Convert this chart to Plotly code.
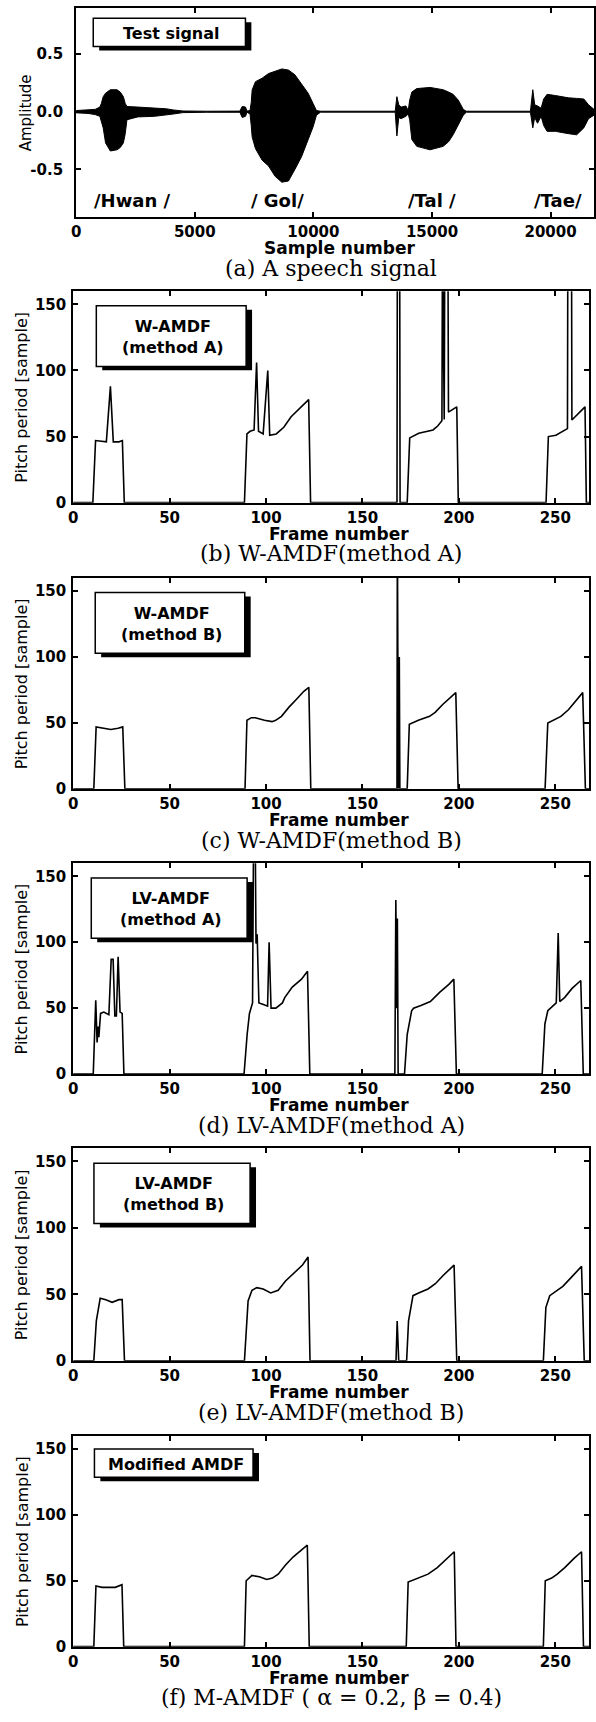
import plotly.graph_objects as go

# ---------------- data ----------------
# (a) speech signal envelope (sample number, upper amplitude, lower amplitude)
env_sample = [0, 500, 800, 1000, 1060, 1140, 1240, 1440, 1720, 1860, 1990, 2070, 2140, 2600, 3300, 3800,
              4100, 4500, 5500, 6900, 7000, 7140, 7200, 7330, 7380, 7420, 7560, 7840, 8110, 8390, 8670,
              8950, 9220, 9500, 9780, 9990, 10130, 10300, 13450, 13520, 13600, 13700, 13900, 14000, 14060,
              14150, 14360, 14920, 15470, 15700, 15890, 16110, 16320, 16450, 19150, 19250, 19330, 19450,
              19600, 19710, 19850, 20200, 20750, 21100, 21400, 21600, 21830]
env_upper = [0.01, 0.015, 0.02, 0.04, 0.07, 0.13, 0.16, 0.19, 0.19, 0.17, 0.13, 0.07, 0.045, 0.04, 0.035, 0.025,
             0.015, 0.006, 0.004, 0.005, 0.045, 0.04, 0.005, 0.01, 0.08, 0.19, 0.26, 0.29, 0.33, 0.35, 0.37,
             0.36, 0.32, 0.24, 0.16, 0.07, 0.01, 0.004, 0.004, 0.13, 0.06, 0.04, 0.05, 0.01, 0.10,
             0.17, 0.20, 0.21, 0.19, 0.17, 0.15, 0.10, 0.02, 0.004, 0.004, 0.19, 0.06, 0.05,
             0.03, 0.11, 0.15, 0.14, 0.12, 0.115, 0.11, 0.06, 0.02]
env_lower = [-0.01, -0.015, -0.025, -0.04, -0.08, -0.14, -0.27, -0.34, -0.33, -0.31, -0.27, -0.19, -0.07, -0.045, -0.04, -0.03,
             -0.02, -0.008, -0.005, -0.005, -0.05, -0.04, -0.005, -0.02, -0.12, -0.22, -0.32, -0.42, -0.47, -0.56, -0.61,
             -0.60, -0.50, -0.39, -0.24, -0.13, -0.03, -0.004, -0.004, -0.21, -0.05, -0.06, -0.04, -0.02, -0.07,
             -0.24, -0.30, -0.33, -0.30, -0.26, -0.20, -0.12, -0.03, -0.004, -0.004, -0.14, -0.05, -0.10,
             -0.04, -0.12, -0.17, -0.17, -0.19, -0.20, -0.14, -0.06, -0.03]
syllables = ["/Hwan /", "/ Gol/", "/Tal /", "/Tae/"]
syllable_pos = [2375, 8500, 14990, 20330]
signal_xticks = [0, 5000, 10000, 15000, 20000]
signal_xticktext = ["0", "5000", "10000", "15000", "20000"]
signal_yticks = [-0.5, 0.0, 0.5]
signal_yticktext = ["-0.5", "0.0", "0.5"]

# pitch-period tracks (frame number, pitch period [sample]); values above 160 are off-scale spikes
wA_frames = [0, 10.2, 11.6, 17.2, 19.3, 20.8, 23.7, 25.5, 26.5,
             88.8, 90.1, 91.7, 93.8, 95.1, 96.1, 98.5, 100.9, 101.9, 105.3, 109.2, 113, 117.9, 122.1, 123.1,
             167.9, 168.1, 169.3, 169.5,
             173.2, 174.5, 179.2, 186.6, 189, 191.2, 191.5, 192.4, 192.7, 194.3, 194.6, 198.9, 199.7,
             245.2, 246.4, 250.3, 256.3, 256.5, 258.4, 258.6, 265.4, 266.1, 267.5]
wA_vals = [0, 0, 47, 46, 88, 46, 46, 47, 0,
           0, 52, 54, 55, 106, 54, 52, 100, 51, 52, 57, 65, 72, 78, 0,
           0, 200, 200, 0,
           0, 49, 52.5, 55, 58, 62, 200, 63, 200, 200, 68.5, 72.5, 0,
           0, 50, 51, 56, 200, 200, 62.5, 72.5, 0, 0]

wB_frames = [0, 10.7, 11.9, 15.6, 19.5, 23.3, 25.7, 26.8,
             89.1, 90.1, 92.4, 94.4, 99.2, 103.1, 105, 108, 111.9, 115.8, 119.6, 122.2, 123.2,
             167.9, 168.1, 168.6, 169.1, 169.4,
             173.2, 174.3, 179, 184.8, 187.7, 191.6, 196.5, 198.4, 199.6,
             244.7, 246.1, 249, 252.9, 256.8, 260.7, 264.2, 265.6, 267.5]
wB_vals = [0, 0, 47, 46, 45, 46, 47, 0,
           0, 52, 54, 54, 52, 51, 52, 55, 62, 68, 74, 77, 0,
           0, 200, 0, 100, 0,
           0, 49, 52, 55, 58, 64, 70, 73, 0,
           0, 50, 52, 55, 60, 67, 73, 0, 0]

lvA_frames = [0, 10.4, 11.7, 12.4, 12.9, 13.3, 14.2, 15.9, 18.5, 19.7, 20.7, 21.6, 22.4, 23.3, 24.3, 25.4, 26.3,
              88.6, 90.2, 91.4, 93.0, 93.6, 94.3, 94.8, 95.4, 96.3, 98.3, 100.8, 101.6, 102.6, 105.1, 108.5,
              109.7, 113.6, 118.4, 121.5, 122.7,
              166.8, 167.3, 167.8, 168.1, 168.5,
              171.8, 173.2, 175.5, 176.5, 180.3, 185.2, 190, 194.8, 197.4, 198.7,
              243.2, 244.6, 246.1, 249, 250.5, 251.5, 252.3, 254.8, 258.7, 263.2, 264.5, 267.5]
lvA_vals = [0, 0, 56, 24, 36, 28, 46, 47, 45, 87, 87, 44, 44, 89, 47, 46, 0,
            0, 30, 46, 54, 200, 200, 99, 106, 54, 53, 51.5, 100, 50, 50, 54,
            58, 66, 72, 78, 0,
            0, 132, 50, 118, 0,
            0, 30, 48, 50, 52, 55, 62, 68, 72, 0,
            0, 38, 48, 52, 54, 107, 55, 58, 65, 71, 0, 0]

lvB_frames = [0, 10.7, 12, 14, 16.9, 20.2, 23.7, 25.4, 26.6,
              88.8, 90.7, 92.7, 95.2, 98.5, 102.4, 106.3, 110.1, 115, 118.9, 121.8, 122.8,
              167.4, 168, 168.8,
              172.9, 173.9, 176.2, 179.1, 184, 187.8, 191.7, 197.5, 198.9,
              243.8, 245.1, 247.1, 250, 253.9, 257.8, 263.6, 265, 267.5]
lvB_vals = [0, 0, 30, 47, 46, 44, 46, 46, 0,
            0, 45, 53, 55, 54, 51, 53, 60, 67, 72, 78, 0,
            0, 30, 0,
            0, 30, 49, 51, 54, 58, 64, 72, 0,
            0, 40, 49, 52, 56, 62, 71, 0, 0]

m_frames = [0, 10.7, 11.8, 15, 21.8, 25.3, 26.2,
            88.8, 89.7, 92.7, 96.5, 100.4, 103.3, 106.3, 110.1, 114, 118.9, 121.4, 122.4,
            172.7, 173.7, 179.1, 184, 188.8, 193.7, 197.6, 198.5,
            243.8, 244.8, 248.1, 251, 254.9, 259.7, 263.6, 264.6, 267.5]
m_vals = [0, 0, 46, 45, 45, 47, 0,
          0, 50, 54, 53, 51, 52, 55, 62, 68, 74, 77, 0,
          0, 49, 52, 55, 60, 67, 72, 0,
          0, 50, 52, 55, 60, 67, 72, 0, 0]

pitch_xticks = [0, 50, 100, 150, 200, 250]
pitch_yticks = [0, 50, 100, 150]

tracks = [(wA_frames, wA_vals), (wB_frames, wB_vals), (lvA_frames, lvA_vals),
          (lvB_frames, lvB_vals), (m_frames, m_vals)]
box_texts = ["W-AMDF<br>(method A)", "W-AMDF<br>(method B)", "LV-AMDF<br>(method A)",
             "LV-AMDF<br>(method B)", "Modified AMDF"]
captions = ["(a) A speech signal", "(b) W-AMDF(method A)", "(c) W-AMDF(method B)",
            "(d) LV-AMDF(method A)", "(e) LV-AMDF(method B)", "(f) M-AMDF ( α = 0.2, β = 0.4)"]

# ---------------- layout (pixels) ----------------
W, H = 596, 1722
px_x = lambda v: v / W
px_y = lambda v: 1 - v / H

# panel plot areas: (left, right, top, bottom)
panels = [(72, 596, 8.3, 218.0),
          (69, 591, 292.7, 505.3),
          (69, 591, 581.0, 793.0),
          (69, 591, 867.7, 1079.7),
          (69, 591, 1154.0, 1368.0),
          (69, 591, 1443.3, 1655.3)]
boxes = [(89.3, 243.3, 18.3, 46.7),
         (92.4, 244.0, 307.3, 368.3),
         (91.3, 242.6, 595.7, 656.7),
         (87.3, 245.0, 882.7, 943.3),
         (90.0, 248.0, 1169.3, 1230.0),
         (90.5, 251.0, 1456.7, 1485.0)]

SANS = "DejaVu Sans"
SERIF = "DejaVu Serif"

fig = go.Figure()

# (a) speech signal envelope as filled polygon
poly_x = env_sample + env_sample[::-1]
poly_y = env_upper + env_lower[::-1]
fig.add_trace(go.Scatter(x=poly_x, y=poly_y, mode="lines", fill="toself",
                         fillcolor="black", line=dict(color="black", width=1),
                         xaxis="x", yaxis="y", showlegend=False, hoverinfo="skip"))

for i, (fr, vals) in enumerate(tracks):
    n = i + 2
    fig.add_trace(go.Scatter(x=fr, y=vals, mode="lines",
                             line=dict(color="black", width=1.6),
                             xaxis=f"x{n}", yaxis=f"y{n}", showlegend=False))

axis_common = dict(showline=True, linecolor="black", linewidth=2, mirror="ticks",
                   ticks="inside", ticklen=5, tickwidth=1.5, tickcolor="black",
                   showgrid=False, zeroline=False,
                   tickfont=dict(family=SANS, size=15, color="black", weight="bold"))

layout = dict(width=W, height=H, margin=dict(l=0, r=0, t=0, b=0),
              paper_bgcolor="white", plot_bgcolor="white", showlegend=False)

for i, (l, r, t, b) in enumerate(panels):
    n = "" if i == 0 else str(i + 1)
    xa = dict(axis_common, domain=[px_x(l), px_x(r)], anchor=f"y{n}")
    ya = dict(axis_common, domain=[px_y(b), px_y(t)], anchor=f"x{n}")
    if i == 0:
        xa.update(range=[0, 21830], tickvals=signal_xticks, ticktext=signal_xticktext)
        ya.update(range=[-0.91, 0.895], tickvals=signal_yticks, ticktext=signal_yticktext,
                  ticklabelstandoff=8)
    else:
        xa.update(range=[0, 267.5], tickvals=pitch_xticks)
        ya.update(range=[0, 160], tickvals=pitch_yticks, ticklabelstandoff=2)
    layout[f"xaxis{n}"] = xa
    layout[f"yaxis{n}"] = ya

fig.update_layout(**layout)

shapes = []
annotations = []


def note(x, y, text, font, **kw):
    d = dict(xref="paper", yref="paper", x=px_x(x), y=px_y(y), text=text, showarrow=False,
             xanchor="center", yanchor="middle", font=font)
    d.update(kw)
    annotations.append(d)


for i, ((l, r, t, b), (bx0, bx1, by0, by1)) in enumerate(zip(panels, boxes)):
    # legend-style box with drop shadow
    shapes.append(dict(type="rect", xref="paper", yref="paper",
                       x0=px_x(bx0 + 6), x1=px_x(bx1 + 6), y0=px_y(by1 + 4), y1=px_y(by0 + 4),
                       fillcolor="black", line=dict(width=0), layer="above"))
    shapes.append(dict(type="rect", xref="paper", yref="paper",
                       x0=px_x(bx0), x1=px_x(bx1), y0=px_y(by1), y1=px_y(by0),
                       fillcolor="white", line=dict(color="black", width=1.5), layer="above"))
    txt = "Test signal" if i == 0 else box_texts[i - 1]
    note((bx0 + bx1) / 2 + 2, (by0 + by1) / 2 + 1, txt,
         dict(family=SANS, size=16, color="black", weight="bold"), align="center")
    # y-axis title
    note(17 if i else 21, (t + b) / 2, "Amplitude" if i == 0 else "Pitch period [sample]",
         dict(family=SANS, size=15 if i == 0 else 16, color="black"), textangle=-90)
    # x-axis title
    note(338, b + 31.5, "Sample number" if i == 0 else "Frame number",
         dict(family=SANS, size=17, color="black", weight="bold"))
    # caption
    note(330, b + 51.5, captions[i], dict(family=SERIF, size=22, color="black"))

for s, p in zip(syllables, syllable_pos):
    annotations.append(dict(xref="x", yref="y", x=p, y=-0.765, text=s, showarrow=False,
                            xanchor="center", yanchor="middle",
                            font=dict(family=SANS, size=18, color="black", weight="bold")))

fig.update_layout(shapes=shapes, annotations=annotations)
fig.write_html("out.html", config={"displayModeBar": False},
               post_script="document.body.style.margin='0';document.body.style.overflow='hidden';"
                           "document.documentElement.style.overflow='hidden';")
